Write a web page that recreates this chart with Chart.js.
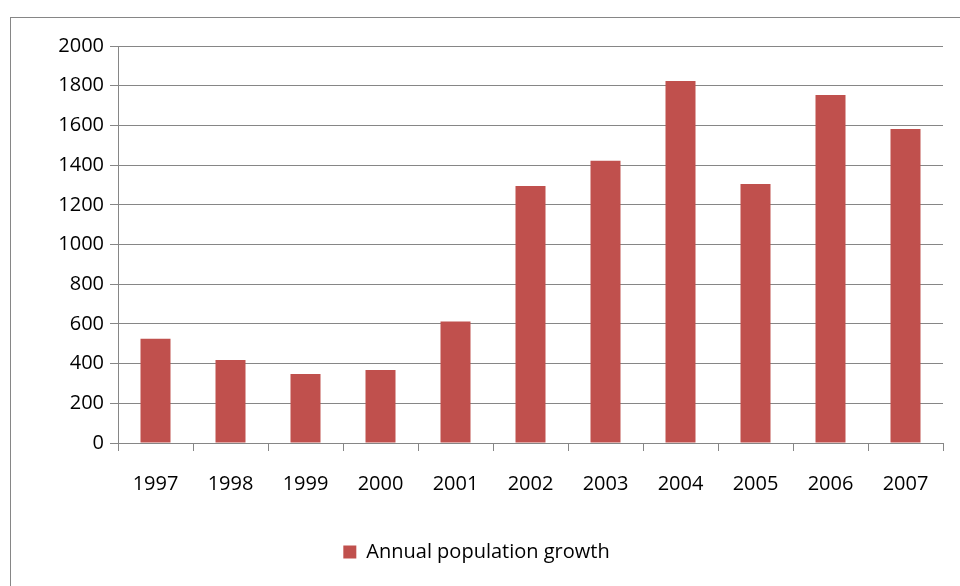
<!DOCTYPE html>
<html>
<head>
<script src="https://cdn.jsdelivr.net/npm/chart.js@4"></script>
<style>
body { margin: 0; background: #fff; }
#frame { position: absolute; left: 10px; top: 17px; width: 960px; height: 580px; border: 1px solid #868686; box-sizing: border-box; }
#wrap { position: absolute; left: 0; top: 0; width: 960px; height: 586px; }
</style>
</head>
<body>
<div id="frame"></div>
<div id="wrap"><canvas id="chart"></canvas></div>
<script>
const years = ['1997', '1998', '1999', '2000', '2001', '2002', '2003', '2004', '2005', '2006', '2007'];
const growth = [525, 418, 348, 368, 612, 1295, 1422, 1824, 1305, 1753, 1582];
const yTicks = [0, 200, 400, 600, 800, 1000, 1200, 1400, 1600, 1800, 2000];

const ctx = document.getElementById('chart').getContext('2d');
new Chart(ctx, {
    type: 'bar',
    data: {
        labels: years,
        datasets: [{
            label: 'Annual population growth',
            data: growth,
            backgroundColor: '#c0504d',
            categoryPercentage: 1,
            barPercentage: 0.4
        }]
    },
    options: {
        responsive: true,
        maintainAspectRatio: false,
        animation: false,
        layout: { padding: { left: 10, top: 46, right: 17, bottom: 14 } },
        scales: {
            x: {
                afterFit: axis => { axis.height = 75; },
                grid: { offset: true, drawOnChartArea: false, color: '#868686', tickLength: 8 },
                border: { color: '#868686' },
                ticks: { color: '#000', font: { family: 'Open Sans', size: 20 }, padding: 21 }
            },
            y: {
                min: 0, max: 2000,
                afterFit: axis => { axis.width = 108; },
                afterBuildTicks: axis => { axis.ticks = yTicks.map(v => ({ value: v })); },
                grid: { color: '#868686', tickLength: 8 },
                border: { color: '#868686' },
                ticks: { color: '#000', font: { family: 'Open Sans', size: 20 }, padding: 6, callback: v => String(v) }
            }
        },
        plugins: {
            legend: {
                position: 'bottom',
                labels: { color: '#000', font: { family: 'Open Sans', size: 20 }, boxWidth: 13, boxHeight: 13, padding: 24 }
            },
            tooltip: { enabled: false }
        }
    }
});
</script>
</body>
</html>
